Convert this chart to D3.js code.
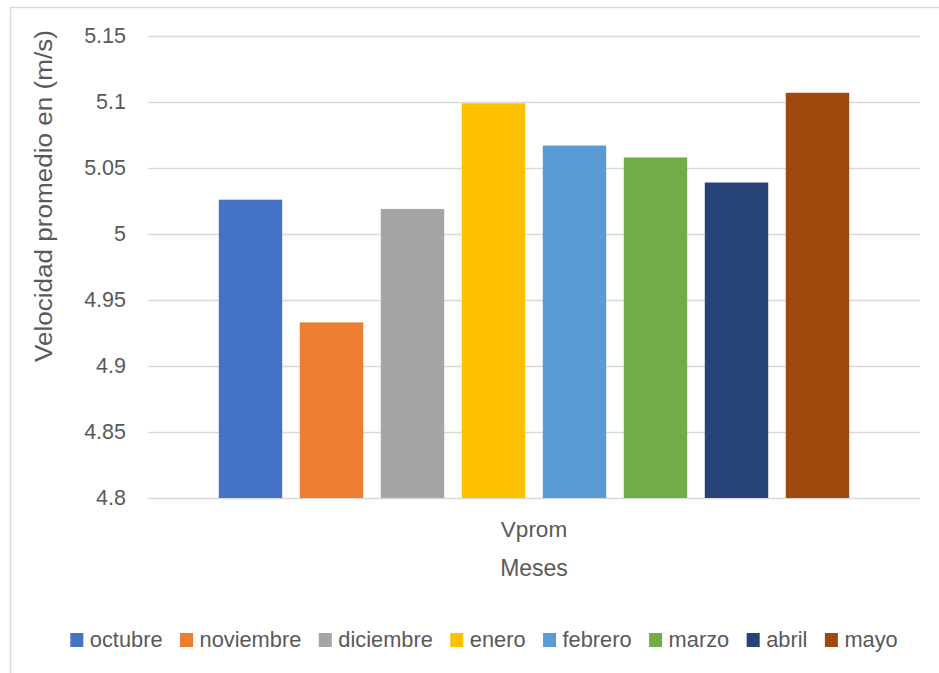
<!DOCTYPE html>
<html><head><meta charset="utf-8">
<script src="https://cdn.jsdelivr.net/npm/d3@7"></script>
<style>
html,body{margin:0;padding:0;background:#fff;}
text{font-family:"Liberation Sans",Arial,sans-serif;fill:#595959;}
</style></head>
<body>
<svg id="chart" width="939" height="673"></svg>
<script>
const months = ["octubre","noviembre","diciembre","enero","febrero","marzo","abril","mayo"];
const values = [5.026, 4.933, 5.019, 5.099, 5.067, 5.058, 5.039, 5.107];
const colors = ["#4472C4","#ED7D31","#A5A5A5","#FFC000","#5B9BD5","#70AD47","#264478","#9E480E"];
const yTicks = [4.8, 4.85, 4.9, 4.95, 5, 5.05, 5.1, 5.15];
const category = "Vprom";
const xTitle = "Meses";
const yTitle = "Velocidad promedio en (m/s)";

const svg = d3.select("#chart");
const plot = {left:148, right:920, top:36, bottom:498};

// chart border (top & left visible)
svg.append("rect").attr("x",10.5).attr("y",7.5).attr("width",1000).attr("height",1000)
  .attr("fill","none").attr("stroke","#d9d9d9").attr("stroke-width",1.5);

const y = d3.scaleLinear().domain([4.8,5.15]).range([plot.bottom, plot.top]);
const x = d3.scaleBand().domain(months).range([plot.left, plot.right])
  .paddingInner(0.217).paddingOuter(0.874);

// gridlines
const yAxis = d3.axisLeft(y).tickValues(yTicks).tickSize(-(plot.right-plot.left)).tickPadding(22)
  .tickFormat(d => d3.format("")(+d.toFixed(2)));
const gy = svg.append("g").attr("transform",`translate(${plot.left},0)`).call(yAxis);
gy.select(".domain").remove();
gy.selectAll(".tick line").attr("stroke","#d9d9d9").attr("stroke-width",1.5);
gy.selectAll(".tick text").attr("font-size",21.5).attr("fill","#595959")
  .style("font-family","'Liberation Sans',Arial,sans-serif");

// bars
svg.append("g").selectAll("rect").data(months).join("rect")
  .attr("x", d => x(d))
  .attr("width", x.bandwidth())
  .attr("y", (d,i) => y(values[i]))
  .attr("height", (d,i) => y(4.8) - y(values[i]))
  .attr("fill", (d,i) => colors[i]);

// category label and axis title
const cx = (plot.left + plot.right)/2;
svg.append("text").attr("x",cx).attr("y",537).attr("text-anchor","middle").attr("font-size",22.5).text(category);
svg.append("text").attr("x",cx).attr("y",576).attr("text-anchor","middle").attr("font-size",23).text(xTitle);

// y title
svg.append("text").attr("transform","translate(52,196) rotate(-90)").attr("text-anchor","middle")
  .attr("font-size",23).attr("textLength",332).attr("lengthAdjust","spacingAndGlyphs").text(yTitle);

// legend
const lg = svg.append("g");
const items = lg.selectAll("g").data(months).join("g");
items.append("rect").attr("width",13).attr("height",14).attr("y",633).attr("fill",(d,i)=>colors[i]);
items.append("text").attr("y",647).attr("font-size",21.8).text(d=>d);
let pos = 0;
items.each(function(d){
  const t = d3.select(this).select("text");
  const w = t.node().getComputedTextLength();
  d3.select(this).select("rect").attr("x",pos);
  t.attr("x",pos+19.5);
  pos += 19.5 + w + 17.5;
});
const total = pos - 17.5;
const legendCenter = 484;
lg.attr("transform",`translate(${legendCenter - total/2},0)`);
</script>
</body></html>
